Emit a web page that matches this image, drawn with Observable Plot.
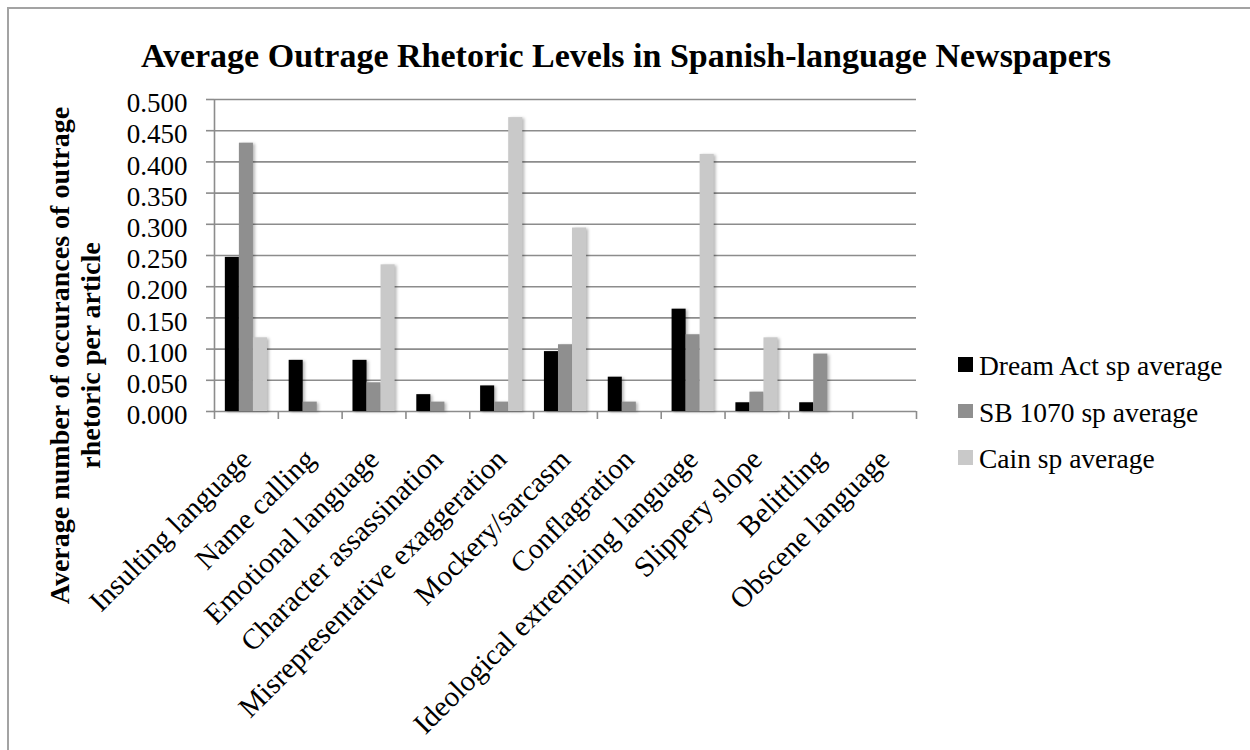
<!DOCTYPE html>
<html>
<head>
<meta charset="utf-8">
<script src="https://cdn.jsdelivr.net/npm/d3@7"></script>
<script src="https://cdn.jsdelivr.net/npm/@observablehq/plot@0.6"></script>
<style>
  html, body { margin: 0; padding: 0; background: #fff; }
  #wrap { position: relative; width: 1250px; height: 750px; overflow: hidden; font-family: "Liberation Serif", serif; color: #000; }
  #frame { position: absolute; left: 7px; top: 7px; width: 1300px; height: 800px; border-top: 2px solid #a3a3a3; border-left: 2px solid #a3a3a3; box-sizing: border-box; }
  #chart { position: absolute; left: 0; top: 0; }
  #title { position: absolute; left: 0; width: 1252px; top: 39px; text-align: center; font-weight: bold; font-size: 34px; line-height: 34px; white-space: nowrap; }
  .sw { position: absolute; width: 14.5px; height: 14.5px; }
  .lt { position: absolute; font-size: 27.5px; line-height: 27.5px; white-space: nowrap; }
  g[aria-label="rect"] rect { filter: drop-shadow(2px 1px 1.5px rgba(0,0,0,0.28)); }
</style>
</head>
<body>
<div id="wrap">
  <div id="frame"></div>
  <div id="chart"></div>
  <div id="title"></div>
  <div id="legend"></div>
</div>
<script>
// ---- data ----
const titleText = "Average Outrage Rhetoric Levels in Spanish-language Newspapers";
const yLabelText = "Average number of occurances of outrage\nrhetoric per article";
const categories = [
  "Insulting language", "Name calling", "Emotional language", "Character assassination",
  "Misrepresentative exaggeration", "Mockery/sarcasm", "Conflagration",
  "Ideological extremizing language", "Slippery slope", "Belittling", "Obscene language"
];
const seriesNames = ["Dream Act sp average", "SB 1070 sp average", "Cain sp average"];
const seriesColors = ["#000000", "#8f8f8f", "#c9c9c9"];
const dreamAct = [0.247, 0.082, 0.082, 0.027, 0.041, 0.096, 0.055, 0.164, 0.014, 0.014, 0];
const sb1070   = [0.430, 0.015, 0.046, 0.015, 0.015, 0.107, 0.015, 0.123, 0.031, 0.092, 0];
const cain     = [0.118, 0,     0.235, 0,     0.471, 0.294, 0,     0.412, 0.118, 0,     0];
const yTicks = [0, 0.05, 0.1, 0.15, 0.2, 0.25, 0.3, 0.35, 0.4, 0.45, 0.5];

// ---- build table ----
const seriesValues = [dreamAct, sb1070, cain];
const rows = categories.flatMap((c, i) =>
  seriesValues.map((vals, s) => ({i, s, category: c, series: seriesNames[s], value: vals[i]})));

const groupInset = 0.17, barFrac = 0.22;
const gridColor = "#8c8c8c";

const chart = Plot.plot({
  width: 1250, height: 750,
  marginLeft: 214, marginRight: 334, marginTop: 99, marginBottom: 339,
  style: {fontFamily: "Liberation Serif", fontSize: "27px", color: "#000", background: "transparent", overflow: "visible"},
  x: {domain: [0, categories.length], axis: null},
  y: {domain: [0, 0.5], axis: null},
  color: {domain: seriesNames, range: seriesColors},
  marks: [
    Plot.gridY(yTicks, {stroke: gridColor, strokeOpacity: 1, strokeWidth: 1.6}),
    Plot.rectY(rows, {
      x1: d => d.i + groupInset + d.s * barFrac,
      x2: d => d.i + groupInset + (d.s + 1) * barFrac,
      y1: 0, y2: "value", fill: "series"
    }),
    Plot.ruleX([0], {stroke: gridColor, strokeWidth: 1.6}),
    Plot.axisY(yTicks, {tickSize: 8, tickFormat: () => "", stroke: gridColor, strokeWidth: 1.6, label: null}),
    Plot.axisY(yTicks, {tickSize: 0, tickPadding: 27, dy: 4, tickFormat: d3.format(".3f"), fill: "#000", fontSize: 27, label: null}),
    Plot.axisX(d3.range(categories.length + 1), {tickSize: 8, tickFormat: () => "", stroke: gridColor, strokeWidth: 1.6, label: null}),
    Plot.axisX(categories.map((c, i) => i + 0.5), {
      tickSize: 0, tickPadding: 43, tickRotate: -45,
      tickFormat: v => categories[Math.floor(v)], fill: "#000", fontSize: 29, label: null
    }),
    Plot.text([yLabelText], {
      text: d => d, frameAnchor: "left", textAnchor: "middle", rotate: -90, dx: -140, dy: 100,
      fontWeight: "bold", fontSize: 28, lineHeight: 1.1, fill: "#000"
    })
  ]
});
document.getElementById("chart").appendChild(chart);
document.getElementById("title").textContent = titleText;

// ---- legend ----
const legend = document.getElementById("legend");
const legendLeft = 958, legendTop = 357, legendGap = 46.5;
seriesNames.forEach((name, k) => {
  const top = legendTop + k * legendGap;
  const sw = document.createElement("div");
  sw.className = "sw";
  sw.style.left = legendLeft + "px";
  sw.style.top = top + "px";
  sw.style.background = seriesColors[k];
  legend.appendChild(sw);
  const t = document.createElement("div");
  t.className = "lt";
  t.style.left = (legendLeft + 21) + "px";
  t.style.top = (top - 4.8) + "px";
  t.textContent = name;
  legend.appendChild(t);
});
</script>
</body>
</html>
